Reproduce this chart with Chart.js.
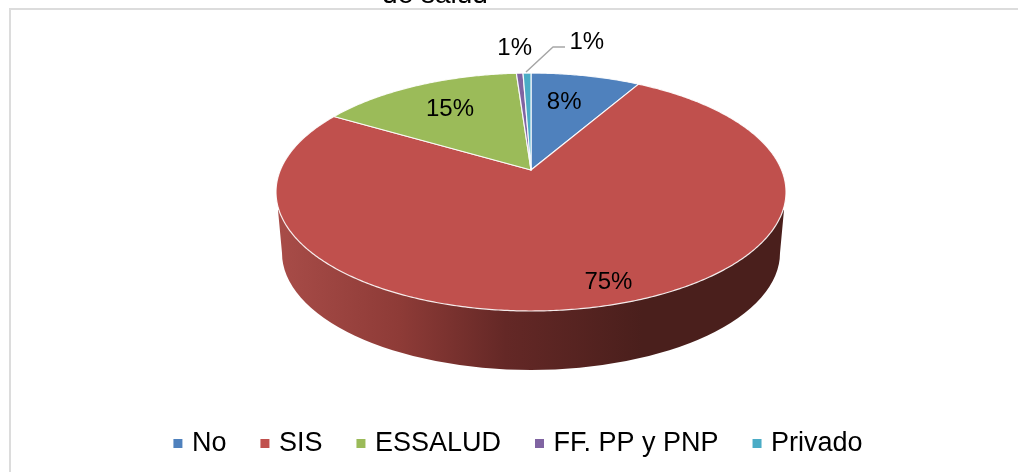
<!DOCTYPE html>
<html><head><meta charset="utf-8">
<style>html,body{margin:0;padding:0;background:#fff}#w{position:relative;width:1018px;height:472px;overflow:hidden}</style>
<script src="https://cdn.jsdelivr.net/npm/chart.js@4"></script>
</head><body><div id="w"><canvas id="c" width="1018" height="472"></canvas></div>
<script>
const categories = ['No','SIS','ESSALUD','FF. PP y PNP','Privado'];
const seriesValues = [8.3,75.2,15.4,0.5,0.6];
const sliceColors = ['#4F81BD','#C0504D','#9BBB59','#8064A2','#4BACC6'];
const titleFragment = 'de salud';

// Layout of the tilted disc (perspective projection of the library's arc angles)
const APEX={x:531,y:170}, K=0.185, A=114.9, C=250.6;
const WALL={cx:531,cy:253,rx:249,ry:117,lx:278,rx2:784,topY:210};
const project=(r,ang)=>{ // ang = chart.js angle (radians, -PI/2 = top)
  const u=r*Math.cos(ang), v=r*Math.sin(ang), d=1-K*v;
  return {x:APEX.x+C*u/d, y:APEX.y+A*v/d};
};
const labelPlace=[{r:.70,dx:-7,dy:1},{r:.865,dx:0,dy:1},{r:.70,dx:2,dy:1},{r:1.34,dx:-2,dy:2},{r:1.40,dx:61,dy:0}];

const tiltedPie={
  id:'tiltedPie',
  beforeDatasetDraw(chart){
    const ctx=chart.ctx, arcs=chart.getDatasetMeta(0).data;
    ctx.save();
    // frame
    ctx.fillStyle='#dcdcdc';
    ctx.fillRect(9,8,1009,2); ctx.fillRect(9,8,2,464);
    // clipped title
    ctx.fillStyle='#000'; ctx.font='28px "Liberation Sans"'; ctx.textAlign='center'; ctx.textBaseline='alphabetic';
    ctx.fillText(titleFragment,435,3);
    // side wall
    const g=ctx.createLinearGradient(WALL.lx,0,WALL.rx2,0);
    g.addColorStop(0,'#a84c48');g.addColorStop(.24,'#8e3b37');g.addColorStop(.45,'#642826');g.addColorStop(.72,'#4a1f1c');g.addColorStop(1,'#4a1f1c');
    ctx.fillStyle=g;
    ctx.beginPath();
    ctx.moveTo(WALL.lx,WALL.topY);
    ctx.lineTo(WALL.cx-WALL.rx,WALL.cy);
    ctx.ellipse(WALL.cx,WALL.cy,WALL.rx,WALL.ry,0,Math.PI,0,true);
    ctx.lineTo(WALL.rx2,WALL.topY);
    ctx.closePath();ctx.fill();
    // slices, from the library's arc elements
    arcs.forEach((a,i)=>{
      const p=a.getProps(['startAngle','endAngle'],true);
      ctx.beginPath();ctx.moveTo(APEX.x,APEX.y);
      const n=Math.max(2,Math.ceil((p.endAngle-p.startAngle)/0.01));
      for(let k=0;k<=n;k++){const q=project(1,p.startAngle+(p.endAngle-p.startAngle)*k/n);ctx.lineTo(q.x,q.y);}
      ctx.closePath();
      ctx.fillStyle=sliceColors[i];ctx.fill();
      ctx.strokeStyle='rgba(255,255,255,.9)';ctx.lineWidth=1.2;ctx.lineJoin='round';ctx.stroke();
    });
    // leader line
    ctx.strokeStyle='#a6a6a6';ctx.lineWidth=1.5;
    ctx.beginPath();ctx.moveTo(526,72);ctx.lineTo(553,47);ctx.lineTo(565,47);ctx.stroke();
    // value labels
    ctx.fillStyle='#000';ctx.font='24px "Liberation Sans"';ctx.textAlign='center';ctx.textBaseline='middle';
    const total=seriesValues.reduce((s,v)=>s+v,0);
    arcs.forEach((a,i)=>{
      const p=a.getProps(['startAngle','endAngle'],true);
      const mid=(p.startAngle+p.endAngle)/2+(i===1?-0.05:0);
      const q=project(labelPlace[i].r,mid);
      ctx.fillText(Math.round(seriesValues[i]/total*100)+'%',q.x+labelPlace[i].dx,q.y+labelPlace[i].dy);
    });
    ctx.restore();
    return false;
  }
};
new Chart(document.getElementById('c'),{
  type:'pie',
  data:{labels:categories,datasets:[{data:seriesValues,backgroundColor:sliceColors,borderWidth:0}]},
  options:{
    responsive:false,animation:false,
    layout:{padding:{left:22,right:0,top:0,bottom:5}},
    plugins:{
      tooltip:{enabled:false},
      legend:{position:'bottom',labels:{usePointStyle:true,pointStyle:'rect',boxWidth:1,boxHeight:9,padding:38,color:'#000',font:{family:'"Liberation Sans"',size:27},
        generateLabels(chart){return categories.map((t,i)=>({text:t,fillStyle:sliceColors[i],strokeStyle:sliceColors[i],lineWidth:0,pointStyle:'rect',index:i,hidden:false}));}}}
    }
  },
  plugins:[tiltedPie]
});
</script></body></html>
